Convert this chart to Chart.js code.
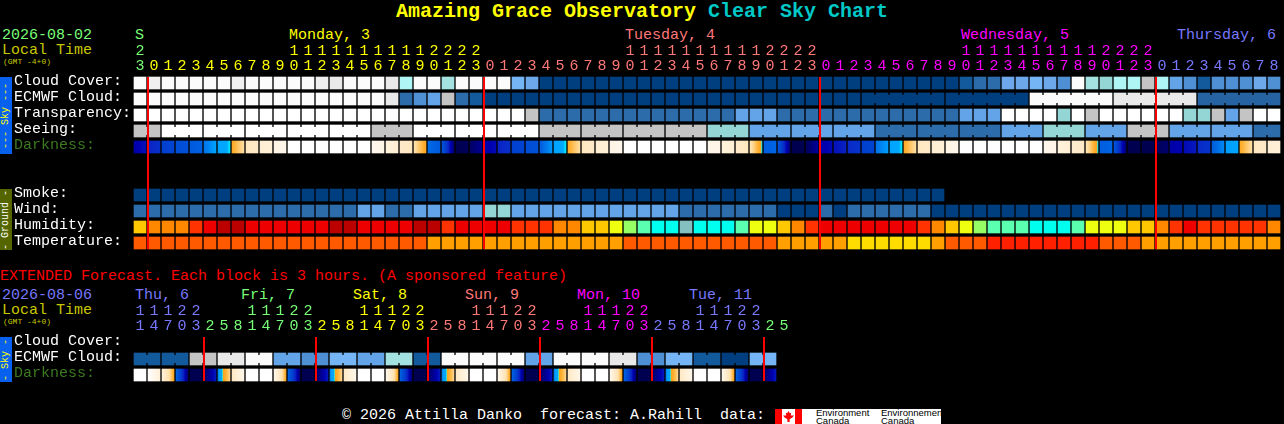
<!DOCTYPE html>
<html lang="en">
<head>
<meta charset="utf-8">
<title>Amazing Grace Observatory Clear Sky Chart</title>
<style>
    html, body { margin: 0; background: #000; width: 1284px; height: 424px; overflow: hidden; }
    canvas { position: absolute; left: 0; }
    #mainChart { top: 0; }
    #extChart { top: 262px; }
    .t { position: absolute; white-space: pre; font: 15px/15px "Liberation Mono", monospace; }
    .title { font: bold 20px/24px "Liberation Mono", monospace; top: 0; }
    .small { font-size: 8px; line-height: 8px; color: #c8c800; }
    .side { position: absolute; left: 0; width: 12px; writing-mode: vertical-rl; transform: rotate(180deg);
            text-align: center; white-space: pre; font: 10px/12px "Liberation Mono", monospace; }
    #logo { position: absolute; left: 775px; top: 409px; width: 166px; height: 15px; background: #fff; overflow: hidden; }
    #logo div { position: absolute; }
    #logo .txt { color: #000; font: 9.5px/8px "Liberation Sans", sans-serif; white-space: pre; top: 0; }
    #leaf { left: 8px; top: 2px; width: 11px; height: 11px; background: #f00;
            clip-path: polygon(50% 0, 62% 20%, 75% 15%, 70% 40%, 100% 40%, 85% 60%, 60% 75%, 60% 100%, 40% 100%, 40% 75%, 15% 60%, 0 40%, 30% 40%, 25% 15%, 38% 20%); }
</style>
</head>
<body>

<div class="t title" style="left:396px;color:#ffff00">Amazing Grace Observatory</div>
<div class="t title" style="left:708px;color:#00c8c8">Clear Sky Chart</div>

<div class="t" style="left:2px;top:28px;color:#78ff78">2026-08-02</div>
<div class="t" style="left:2px;top:43px;color:#c8c800">Local Time</div>
<div class="t small" style="left:3px;top:58px">(GMT -4+0)</div>
<div class="t" style="left:135px;top:28px;color:#78ff78">S</div>
<div class="t" style="left:289px;top:28px;color:#ffff00">Monday, 3</div>
<div class="t" style="left:625px;top:28px;color:#ff7878">Tuesday, 4</div>
<div class="t" style="left:961px;top:28px;color:#ff00ff">Wednesday, 5</div>
<div class="t" style="left:1177px;top:28px;color:#7878ff">Thursday, 6</div>

<div class="t" style="left:0;top:269px;color:#ff0000">EXTENDED Forecast. Each block is 3 hours. (A sponsored feature)</div>
<div class="t" style="left:2px;top:288px;color:#7878ff">2026-08-06</div>
<div class="t" style="left:2px;top:303px;color:#c8c800">Local Time</div>
<div class="t small" style="left:3px;top:318px">(GMT -4+0)</div>
<div class="t" style="left:135px;top:288px;color:#7878ff">Thu, 6</div>
<div class="t" style="left:241px;top:288px;color:#78ff78">Fri, 7</div>
<div class="t" style="left:353px;top:288px;color:#ffff00">Sat, 8</div>
<div class="t" style="left:465px;top:288px;color:#ff7878">Sun, 9</div>
<div class="t" style="left:577px;top:288px;color:#ff00ff">Mon, 10</div>
<div class="t" style="left:689px;top:288px;color:#7878ff">Tue, 11</div>

<div class="side" style="top:77px;height:77px;background:#0860ee;color:#ffff00">--- Sky ---</div>
<div class="side" style="top:189px;height:61px;background:#556600;color:#ffffff">- Ground -</div>
<div class="side" style="top:337px;height:45px;background:#0860ee;color:#ffff00">- Sky -</div>

<canvas id="mainChart" width="1284" height="251"></canvas>
<canvas id="extChart" width="1284" height="121"></canvas>

<div class="t" style="left:342px;top:408px;color:#ffffff">© 2026 Attilla Danko  forecast: A.Rahill  data:</div>
<div id="logo">
    <div style="left:0;top:0;width:7px;height:15px;background:#f00"></div>
    <div style="left:20px;top:0;width:7px;height:15px;background:#f00"></div>
    <div id="leaf"></div>
    <div class="txt" style="left:41px">Environment
Canada</div>
    <div class="txt" style="left:106px">Environnement
Canada</div>
</div>

<script src="https://cdn.jsdelivr.net/npm/chart.js"></script>
<script>
    // hour of each column
    const hours = [23,
        0,1,2,3,4,5,6,7,8,9,10,11,12,13,14,15,16,17,18,19,20,21,22,23,
        0,1,2,3,4,5,6,7,8,9,10,11,12,13,14,15,16,17,18,19,20,21,22,23,
        0,1,2,3,4,5,6,7,8,9,10,11,12,13,14,15,16,17,18,19,20,21,22,23,
        0,1,2,3,4,5,6,7,8];
    const extHours = [11,14,17,20,23,2,5,8, 11,14,17,20,23,2,5,8, 11,14,17,20,23,2,5,8,
        11,14,17,20,23,2,5,8, 11,14,17,20,23,2,5,8, 11,14,17,20,23,2,5];

    const rowNames = ['Cloud Cover:','ECMWF Cloud:','Transparency:','Seeing:','Darkness:','','','Smoke:','Wind:','Humidity:','Temperature:'];
    const extRowNames = ['Cloud Cover:','ECMWF Cloud:','Darkness:'];

    const cloudCover = [0,5,0,0,0,0,0,5,0,0,
        0,0,0,5,10,0,0,0,10,30,
        0,0,35,0,0,0,0,50,55,100,
        100,100,100,100,100,100,100,100,100,100,
        100,100,100,100,100,100,100,100,100,100,
        100,100,100,100,100,100,100,100,100,90,
        80,80,55,55,50,55,70,0,35,40,
        30,30,20,30,60,70,90,70,70,70,
        55,70];
    const ecmwfCloud = [0,0,0,0,0,0,0,0,0,0,
        0,0,0,0,0,0,0,0,10,80,
        70,60,20,80,90,100,100,100,100,100,
        100,100,100,100,100,100,100,100,100,100,
        100,100,100,100,100,100,100,100,100,100,
        100,100,100,100,100,100,100,100,100,100,
        100,100,100,100,0,0,0,0,0,0,
        10,10,10,10,10,10,85,85,85,85,
        85,85];
    const transparency = [-1,-1,-1,-1,-1,-1,-1,-1,-1,-1,
        -1,-1,-1,-1,-1,-1,-1,-1,-1,-1,
        -1,-1,-1,-1,-1,-1,-1,-1,20,80,
        80,80,80,80,80,80,80,80,80,80,
        80,80,80,60,60,60,80,80,80,80,
        80,80,80,80,80,80,80,80,80,60,
        60,60,-1,-1,-1,-1,40,-1,20,-1,
        -1,-1,-1,-1,-1,40,40,20,60,20,
        -1,-1];
    const seeing = [20,20,-1,-1,-1,-1,-1,-1,-1,-1,
        -1,-1,-1,-1,-1,-1,-1,20,20,20,
        -1,-1,-1,-1,-1,-1,-1,-1,-1,20,
        20,20,20,20,20,20,20,20,20,20,
        20,40,40,40,60,60,60,60,60,60,
        60,60,60,80,80,80,80,80,80,80,
        80,80,60,60,60,40,40,40,60,60,
        60,20,20,20,60,60,60,60,60,60,
        80,80];
    // darkness: limiting magnitude at the left and right edge of each block
    const darkFrom = [6.1,5.6,5,4.6,4.2,3.7,3,2.2,0.2,-0.7,
        -1.7,-3,-3,-3,-3,-3,-3,-2.2,-1.2,-0.2,
        0.9,3.8,4.4,7,6.8,6.1,5.6,5,4.6,4.1,
        3,2.2,0.2,-0.7,-1.7,-3,-3,-3,-3,-3,
        -3,-2,-1.2,-0.2,0.7,4.1,4.4,7,6.9,6.1,
        5.8,5.5,5,3.7,3,2.2,0.2,-0.7,-1.7,-3,
        -3,-3,-3,-3,-3,-2,-1.2,-0.6,0.7,4.1,
        4.4,7,7,6.9,6.1,5.9,5.5,4.1,3.1,2.2,
        0.2,-0.7];
    const darkTo = [5.8,5.4,4.9,4.5,4,3,2.6,1,-0.2,-1,
        -2,-3,-3,-3,-3,-3,-3,-1.8,-0.8,0.2,
        2.3,4.2,6.6,6.9,6.3,5.9,5.4,4.9,4.5,3.2,
        2.6,1,-0.2,-1,-2,-3,-3,-3,-3,-3,
        -3,-1.9,-0.8,0.2,2.65,3.9,6.6,7,6.2,5.9,
        5.6,5.3,4.9,3.1,2.6,1,-0.2,-1,-2,-3,
        -3,-3,-3,-3,-3,-1.9,-0.8,-0.2,2.65,3.9,
        6.6,7,7,6.7,6,5.7,5.3,3.4,3,1,
        -0.2,-1];
    const smoke = [100,100,100,100,100,100,100,100,100,100,
        100,100,100,100,100,100,100,100,100,100,
        100,100,100,100,100,100,100,100,100,100,
        100,100,100,100,100,100,100,100,100,100,
        100,100,100,100,100,100,100,100,100,100,
        100,100,100,100,100,100,100,100];
    const wind = [80,80,80,80,80,80,80,80,80,80,
        80,80,80,80,80,80,60,60,80,80,
        60,60,60,60,60,40,40,60,60,60,
        60,60,60,60,60,60,60,60,60,80,
        80,80,80,80,80,80,100,100,100,80,
        100,80,80,80,80,80,80,100,100,100,
        100,100,100,100,100,100,100,100,100,100,
        100,100,100,100,100,100,100,100,100,100,
        100,100];
    const humidity = [75,80,80,80,85,90,95,95,90,90,
        90,90,90,90,95,95,90,90,90,90,
        95,95,85,90,90,90,90,85,85,85,
        80,80,75,75,70,65,60,55,55,52,
        55,55,55,60,70,70,75,80,85,90,
        90,90,90,90,90,90,85,80,75,70,
        65,60,60,60,55,55,55,60,70,70,
        70,75,75,80,85,90,85,85,85,85,
        85,80];
    const temperature = [27,27,27,27,27,27,27,27,27,27,
        27,27,27,27,27,27,27,27,27,27,
        27,24,24,24,24,24,24,24,24,24,
        24,24,24,24,24,27,27,27,27,27,
        27,27,27,27,27,27,24,24,24,24,
        24,21,21,21,21,21,21,24,27,27,
        27,30,30,30,30,30,30,30,30,27,
        27,27,24,24,24,24,24,24,24,24,
        24,24];

    const extEcmwf = [90,90,90,90,20,20,10,10,0,0,
        60,60,70,70,50,50,60,60,35,35,
        90,90,0,0,0,0,0,0,60,60,
        0,0,0,0,10,10,70,70,50,50,
        90,90,100,100,50,50];
    const extDarkFrom = [-3,-3,-1,4,7,6.8,3.4,0,
        -3,-3,-2,4,7,6.8,3.4,0,
        -3,-3,-2,4,7,6.8,3.4,0,
        -3,-3,-2,4,7,6.8,3.4,0,
        -3,-3,-2,4,7,6.8,3.4,0,
        -3,-3,-2,4,7,6.8];
    const extDarkTo = [-3,-1,2.3,6.6,7,5.7,1.2,-2,
        -3,-3,2.3,6.6,7,5.7,1.2,-2,
        -3,-3,2.3,6.6,7,5.7,1.2,-2,
        -3,-3,2.3,6.6,7,5.7,1.2,-2,
        -3,-3,2.3,6.6,7,5.7,1.2,-2,
        -3,-3,2.3,6.6,7,5.7];

    // colour tables
    const skyColours = {'-1':'#ffffff',0:'#fbfbfb',5:'#f0f0f0',10:'#e9e9e9',20:'#c4c4c4',30:'#b0f5f5',35:'#a4e2e2',
        40:'#94d6d6',50:'#75b5f5',55:'#6ca8ea',60:'#63a3e7',70:'#4f90d4',80:'#2d6cab',85:'#2563a3',90:'#135a9c',100:'#003f7f'};
    const humidityColours = {52:'#84c0c0',55:'#00ffee',60:'#5affaf',65:'#96ff64',70:'#eeff10',75:'#ffc800',
        80:'#ff8800',85:'#ff3300',90:'#ee0000',95:'#bb0000'};
    const temperatureColours = {21:'#ffdc00',24:'#ffa000',27:'#ff5a00',30:'#ff2000'};
    const darkLevels = [-3,-2,-1,0,1,2,2.5,2.6,2.7,3,3.5,4,4.5,5,5.5,6,6.5,7];
    const darkColours = ['#ffffff','#fff6ea','#fff0d8','#ffe8c4','#ffe0a8','#ffb030','#ffa020','#00f0ff','#00a8ff','#00a4ff',
        '#0080f0','#0060e0','#0050d8','#0040d0','#0a2ac8','#0000b0','#000080','#000050'];
    const dayColours = ['#78ff78','#ffff00','#ff7878','#ff00ff','#7878ff'];

    const FONT = 'Liberation Mono';

    function darkColour(v) {
        var i = 0;
        while (i < darkLevels.length - 2 && v > darkLevels[i + 1]) i++;
        var t = Math.min(1, Math.max(0, (v - darkLevels[i]) / (darkLevels[i + 1] - darkLevels[i])));
        var a = darkColours[i], b = darkColours[i + 1];
        var rgb = [1, 3, 5].map(function (p) {
            var c1 = parseInt(a.substr(p, 2), 16), c2 = parseInt(b.substr(p, 2), 16);
            return Math.round(c1 + (c2 - c1) * t);
        });
        return 'rgb(' + rgb.join(',') + ')';
    }

    // one row of blocks: floating bars that fill the middle of the row's band
    function row(index, levels, colours, joined) {
        return {
            data: levels.map(function () { return [index + 0.125, index + 0.875]; }),
            levels: levels,
            joined: joined,
            backgroundColor: function (ctx) { return colours[levels[ctx.dataIndex]]; }
        };
    }

    function darkRow(index, from, to) {
        return {
            data: from.map(function () { return [index + 0.125, index + 0.875]; }),
            backgroundColor: function (ctx) {
                var x = ctx.chart.scales.x ? ctx.chart.scales.x.getPixelForValue(ctx.dataIndex) : NaN;
                if (!isFinite(x)) return '#000';
                var g = ctx.chart.ctx.createLinearGradient(x - 6, 0, x + 6, 0);
                for (var s = 0; s <= 24; s++) {
                    g.addColorStop(s / 24, darkColour(from[ctx.dataIndex] + (to[ctx.dataIndex] - from[ctx.dataIndex]) * s / 24));
                }
                return g;
            }
        };
    }

    // short bridges between blocks of the same forecast period, and the red midnight lines
    const overlays = {
        id: 'overlays',
        afterDatasetsDraw: function (chart, args, opts) {
            var c = chart.ctx;
            chart.data.datasets.forEach(function (ds, d) {
                if (!ds.joined) return;
                chart.getDatasetMeta(d).data.forEach(function (bar, i) {
                    if (i + 1 >= ds.data.length || !ds.joined(i)) return;
                    c.fillStyle = skyColours[ds.levels[i]];
                    c.fillRect(bar.x + 6, Math.min(bar.y, bar.base) + 2, 2, 8);
                });
            });
            c.fillStyle = '#ff0000';
            opts.midnights.forEach(function (col) {
                var x = chart.scales.x.getPixelForValue(col) - 7;
                c.fillRect(x, chart.chartArea.top + 2, 2, chart.chartArea.bottom - chart.chartArea.top - 4);
            });
        }
    };

    function makeChart(id, hrs, rows, datasets, midnights, axisHeight, rightPad, firstDay) {
        return new Chart(document.getElementById(id), {
            type: 'bar',
            data: {
                labels: hrs.map(function (h) { return h >= 10 ? [String(h)[0], String(h)[1]] : ['', String(h)]; }),
                datasets: datasets
            },
            options: {
                responsive: false,
                animation: false,
                devicePixelRatio: 1,
                layout: { padding: { left: 14, right: rightPad, top: 0, bottom: 0 } },
                datasets: { bar: { grouped: false, barThickness: 12, borderWidth: 0 } },
                plugins: { legend: { display: false }, tooltip: { enabled: false }, overlays: { midnights: midnights } },
                scales: {
                    x: {
                        position: 'top',
                        grid: { display: false, drawTicks: false },
                        border: { display: false },
                        afterFit: function (s) { s.height = axisHeight; },
                        ticks: {
                            autoSkip: false, maxRotation: 0, minRotation: 0, padding: 1,
                            font: { family: FONT, size: 15, lineHeight: 1 },
                            color: function (ctx) {
                                var day = firstDay;
                                midnights.forEach(function (m) { if (ctx.index >= m) day++; });
                                return dayColours[day % dayColours.length];
                            }
                        }
                    },
                    y: {
                        min: 0, max: rows.length, reverse: true,
                        grid: { display: false, drawTicks: false },
                        border: { display: false },
                        afterFit: function (s) { s.width = 119; s.paddingTop = 0; s.paddingBottom = 0; },
                        // row names sit a little above the middle of their blocks
                        afterBuildTicks: function (s) { s.ticks = rows.map(function (r, i) { return { value: i + 0.4 }; }); },
                        ticks: {
                            padding: 0, crossAlign: 'far', autoSkip: false,
                            font: { family: FONT, size: 15, lineHeight: 1 },
                            color: function (ctx) { return ctx.tick.label === 'Darkness:' ? '#3c7a20' : '#ffffff'; },
                            callback: function (v) { return rows[Math.round(v - 0.4)]; }
                        }
                    }
                }
            },
            plugins: [overlays]
        });
    }

    var seeingJoin = function (i) { return (i + 1) % 3 !== 2; };
    var ecmwfJoin = function (i) { return i >= 52 && (i + 1 - 52) % 6 !== 0; };
    var extJoin = function (i) { return i % 2 === 0; };

    makeChart('mainChart', hours, rowNames, [
        row(0, cloudCover, skyColours),
        row(1, ecmwfCloud, skyColours, ecmwfJoin),
        row(2, transparency, skyColours),
        row(3, seeing, skyColours, seeingJoin),
        darkRow(4, darkFrom, darkTo),
        row(7, smoke, skyColours),
        row(8, wind, skyColours),
        row(9, humidity, humidityColours),
        row(10, temperature, temperatureColours)
    ], [1, 25, 49, 73], 75, 3, 0);

    makeChart('extChart', extHours, extRowNames, [
        row(1, extEcmwf, skyColours, extJoin),
        darkRow(2, extDarkFrom, extDarkTo)
    ], [5, 13, 21, 29, 37, 45], 73, 493, 4);
</script>
</body>
</html>
